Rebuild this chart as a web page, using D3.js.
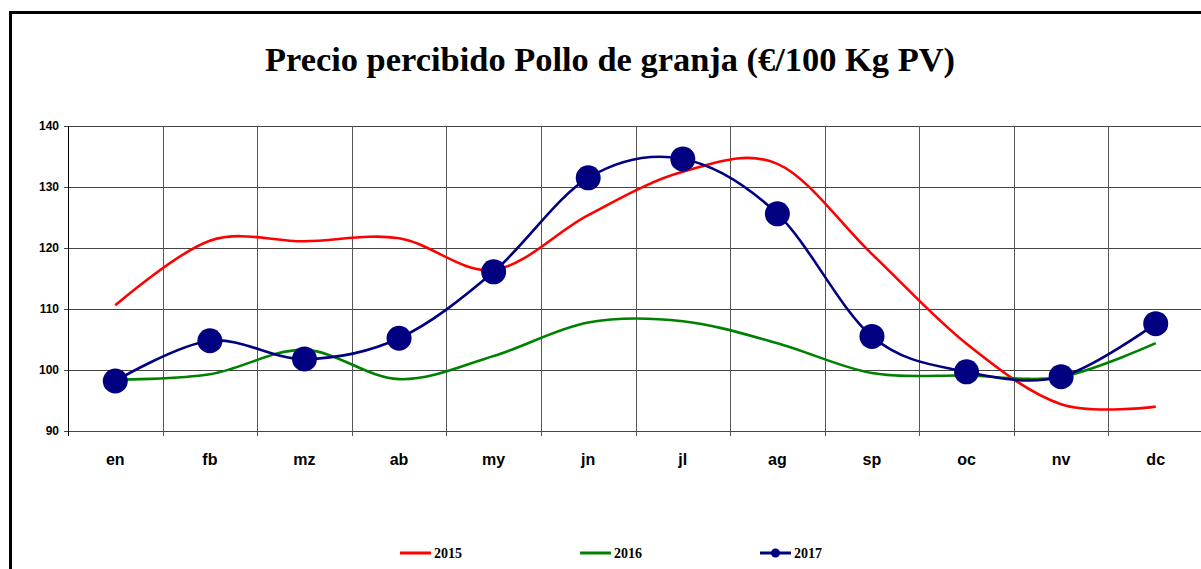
<!DOCTYPE html>
<html>
<head>
<meta charset="utf-8">
<script src="https://cdn.jsdelivr.net/npm/d3@7"></script>
<style>
body { margin: 0; background: #fff; }
svg { display: block; }
</style>
</head>
<body>
<div id="grafic"></div>
<script>
const mesos = ['en', 'fb', 'mz', 'ab', 'my', 'jn', 'jl', 'ag', 'sp', 'oc', 'nv', 'dc'];
const valors2015 = [110.6, 121.2, 121.1, 121.6, 116.4, 125.4, 132.5, 133.8, 119.0, 104.3, 94.4, 94.0];
const valors2016 = [98.4, 99.3, 103.3, 98.5, 102.3, 107.8, 108.0, 104.4, 99.5, 99.1, 98.9, 104.4];
const valors2017 = [98.2, 104.8, 101.8, 105.2, 116.1, 131.5, 134.6, 125.6, 105.5, 99.7, 98.9, 107.6];
const ticsY = [90, 100, 110, 120, 130, 140];
const titol = 'Precio percibido Pollo de granja (€/100 Kg PV)';

const amplada = 1201, alçada = 569;
const marge = {dalt: 126, dreta: -2, baix: 138, esquerra: 68};

const svg = d3.select('#grafic')
	.append('svg')
	.attr('width', amplada)
	.attr('height', alçada);

// marc exterior
svg.append('rect')
	.attr('x', 10.5)
	.attr('y', 12.5)
	.attr('width', amplada + 20)
	.attr('height', alçada + 20)
	.attr('fill', 'none')
	.attr('stroke', 'black')
	.attr('stroke-width', 3);

svg.append('text')
	.attr('x', 610)
	.attr('y', 71)
	.attr('text-anchor', 'middle')
	.attr('font-family', '"Liberation Serif", "Times New Roman", serif')
	.attr('font-weight', 'bold')
	.attr('font-size', 34)
	.attr('textLength', 690)
	.attr('lengthAdjust', 'spacingAndGlyphs')
	.text(titol);

const x = d3.scaleBand()
	.domain(mesos)
	.range([marge.esquerra, amplada - marge.dreta]);
const y = d3.scaleLinear()
	.domain([90, 140])
	.range([alçada - marge.baix, marge.dalt]);

// graella
const graella = svg.append('g');
graella.selectAll('line.h')
	.data(ticsY)
	.enter()
	.append('line')
		.attr('x1', marge.esquerra - 4)
		.attr('x2', amplada)
		.attr('y1', d => Math.round(y(d)) + 0.5)
		.attr('y2', d => Math.round(y(d)) + 0.5)
		.attr('stroke', '#444')
		.attr('stroke-width', 1);
graella.selectAll('line.v')
	.data(mesos.slice(1))
	.enter()
	.append('line')
		.attr('x1', d => Math.round(x(d)) + 0.5)
		.attr('x2', d => Math.round(x(d)) + 0.5)
		.attr('y1', y(140))
		.attr('y2', y(90) + 5)
		.attr('stroke', '#555')
		.attr('stroke-width', 1);
graella.append('line')
	.attr('x1', marge.esquerra + 0.5)
	.attr('x2', marge.esquerra + 0.5)
	.attr('y1', y(140))
	.attr('y2', y(90) + 5)
	.attr('stroke', 'black');

// etiquetes eix Y
svg.append('g')
	.selectAll('text')
	.data(ticsY)
	.enter()
	.append('text')
		.attr('x', 59)
		.attr('y', d => y(d) + 4)
		.attr('text-anchor', 'end')
		.attr('font-family', '"Liberation Sans", Arial, sans-serif')
		.attr('font-weight', 'bold')
		.attr('font-size', 12)
		.text(d => d);

// etiquetes eix X
svg.append('g')
	.selectAll('text')
	.data(mesos)
	.enter()
	.append('text')
		.attr('x', d => x(d) + x.bandwidth() / 2)
		.attr('y', 465)
		.attr('text-anchor', 'middle')
		.attr('font-family', '"Liberation Sans", Arial, sans-serif')
		.attr('font-weight', 'bold')
		.attr('font-size', 16)
		.text(d => d);

const línia = d3.line()
	.x((_, i) => x(mesos[i]) + x.bandwidth() / 2)
	.y(d => y(d))
	.curve(d3.curveCatmullRom.alpha(0));

const sèries = [
	{nom: '2015', vals: valors2015, col: '#ff0000', marca: false, lx: 400},
	{nom: '2016', vals: valors2016, col: '#008000', marca: false, lx: 580},
	{nom: '2017', vals: valors2017, col: '#000080', marca: true, lx: 760}
];

sèries.forEach(s => {
	svg.append('path')
		.attr('d', línia(s.vals))
		.attr('fill', 'none')
		.attr('stroke', s.col)
		.attr('stroke-width', 2.6)
		.attr('stroke-linejoin', 'round');
	if (s.marca) {
		svg.append('g')
			.selectAll('circle')
			.data(s.vals)
			.enter()
			.append('circle')
				.attr('cx', (_, i) => x(mesos[i]) + x.bandwidth() / 2)
				.attr('cy', d => y(d))
				.attr('r', 12.5)
				.attr('fill', s.col);
	}
	// llegenda
	const ll = svg.append('g');
	ll.append('line')
		.attr('x1', s.lx)
		.attr('x2', s.lx + 31)
		.attr('y1', 553)
		.attr('y2', 553)
		.attr('stroke', s.col)
		.attr('stroke-width', 3);
	if (s.marca) {
		ll.append('circle')
			.attr('cx', s.lx + 15.5)
			.attr('cy', 553)
			.attr('r', 4.5)
			.attr('fill', s.col);
	}
	ll.append('text')
		.attr('x', s.lx + 34)
		.attr('y', 558)
		.attr('font-family', '"Liberation Serif", "Times New Roman", serif')
		.attr('font-weight', 'bold')
		.attr('font-size', 14)
		.text(s.nom);
});
</script>
</body>
</html>
